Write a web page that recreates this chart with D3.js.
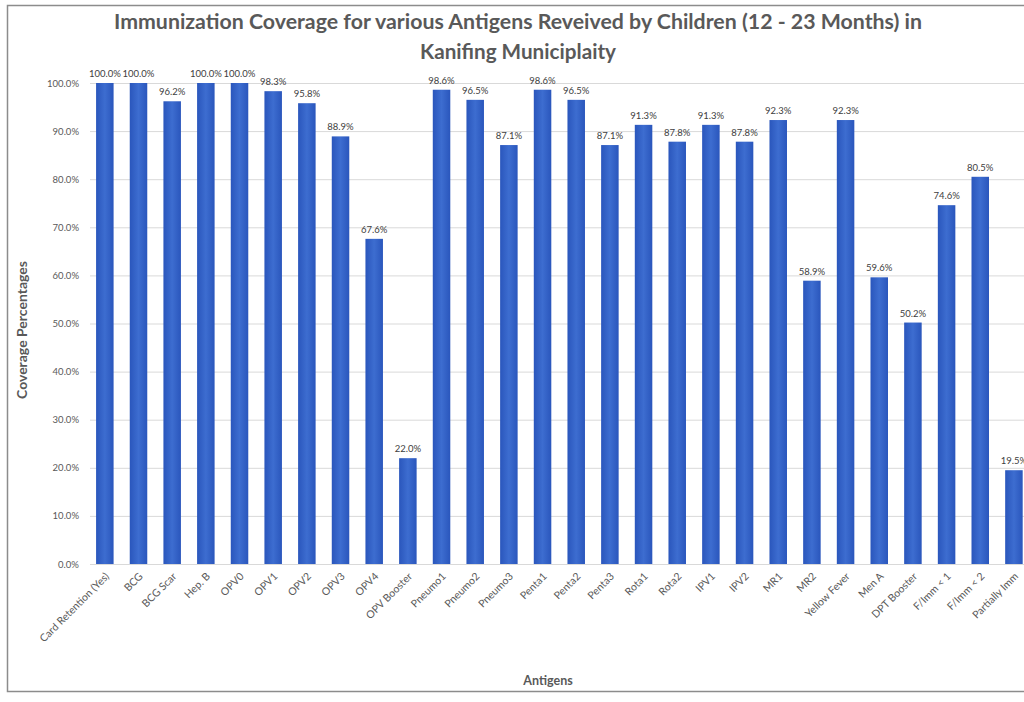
<!DOCTYPE html>
<html>
<head>
<meta charset="utf-8">
<script src="https://cdn.jsdelivr.net/npm/d3@7"></script>
<style>
  html, body { margin: 0; padding: 0; background: #fff; }
  svg { display: block; }
</style>
</head>
<body>
<svg id="chart" width="1024" height="702"></svg>
<script>
// Antigens and the share of children (12 - 23 months) who received each
const antigens = [
  "Card Retention (Yes)", "BCG", "BCG Scar", "Hep. B", "OPV0", "OPV1", "OPV2",
  "OPV3", "OPV4", "OPV Booster", "Pneumo1", "Pneumo2", "Pneumo3", "Penta1",
  "Penta2", "Penta3", "Rota1", "Rota2", "IPV1", "IPV2", "MR1", "MR2",
  "Yellow Fever", "Men A", "DPT Booster", "F/Imm < 1", "F/Imm < 2", "Partially Imm"
];
const coverage = [
  100.0, 100.0, 96.2, 100.0, 100.0, 98.3, 95.8,
  88.9, 67.6, 22.0, 98.6, 96.5, 87.1, 98.6,
  96.5, 87.1, 91.3, 87.8, 91.3, 87.8, 92.3, 58.9,
  92.3, 59.6, 50.2, 74.6, 80.5, 19.5
];
const yTicks = [0, 10, 20, 30, 40, 50, 60, 70, 80, 90, 100];

const titleLines = [
  "Immunization Coverage for various Antigens Reveived by Children (12 - 23 Months) in",
  "Kanifing Municiplaity"
];

const svg = d3.select("#chart");
const font = "Lato, 'Open Sans', sans-serif";

// outer chart frame (runs past the right edge)
svg.append("rect")
  .attr("x", 7.5).attr("y", 5.5)
  .attr("width", 1040).attr("height", 686)
  .attr("fill", "#fff")
  .attr("stroke", "#8c8c8c").attr("stroke-width", 1.5);

const plot = { left: 88, top: 83, bottom: 564, step: 33.67 };
const x = d3.scaleBand()
  .domain(antigens)
  .range([plot.left, plot.left + plot.step * antigens.length])
  .paddingInner(0.48)
  .paddingOuter(0.24);
const y = d3.scaleLinear().domain([0, 100]).range([plot.bottom, plot.top]);

// horizontal gridlines
svg.append("g")
  .selectAll("line")
  .data(yTicks)
  .join("line")
  .attr("x1", 90).attr("x2", 1024)
  .attr("y1", d => y(d) + 0.5).attr("y2", d => y(d) + 0.5)
  .attr("stroke", "#d9d9d9").attr("stroke-width", 1);

// y axis labels
const yAxis = d3.axisLeft(y)
  .tickValues(yTicks)
  .tickFormat(d => d3.format(".1f")(d) + "%")
  .tickSize(0)
  .tickPadding(0);
const gy = svg.append("g").attr("transform", "translate(79,0)").call(yAxis);
gy.select(".domain").remove();
gy.selectAll("text")
  .attr("fill", "#595959")
  .style("font-family", font)
  .style("font-size", "9.5px");

// bars with a soft horizontal shading
const defs = svg.append("defs");
const grad = defs.append("linearGradient").attr("id", "barFill")
  .attr("x1", "0").attr("x2", "1").attr("y1", "0").attr("y2", "0");
grad.append("stop").attr("offset", "0%").attr("stop-color", "#2a56bc");
grad.append("stop").attr("offset", "50%").attr("stop-color", "#3d6dd0");
grad.append("stop").attr("offset", "100%").attr("stop-color", "#2a56bc");

svg.append("g")
  .selectAll("rect")
  .data(antigens)
  .join("rect")
  .attr("x", d => x(d))
  .attr("width", x.bandwidth())
  .attr("y", (d, i) => y(coverage[i]))
  .attr("height", (d, i) => y(0) - y(coverage[i]))
  .attr("fill", "url(#barFill)");

// x axis baseline and category labels
const xAxis = d3.axisBottom(x).tickSize(0).tickPadding(0);
const gx = svg.append("g").attr("transform", `translate(0,${plot.bottom})`).call(xAxis);
gx.select(".domain")
  .attr("d", `M90,0.5H1024`)
  .attr("stroke", "#d9d9d9");
gx.selectAll("text")
  .attr("fill", "#595959")
  .style("font-family", font)
  .style("font-size", "10.5px")
  .attr("text-anchor", "end")
  .attr("dy", "0")
  .attr("transform", "translate(5,13) rotate(-45)");

// value labels above the bars
svg.append("g")
  .selectAll("text")
  .data(antigens)
  .join("text")
  .attr("x", d => x(d) + x.bandwidth() / 2)
  .attr("y", (d, i) => y(coverage[i]) - 6)
  .attr("text-anchor", "middle")
  .attr("fill", "#404040")
  .style("font-family", font)
  .style("font-size", "9.5px")
  .text((d, i) => d3.format(".1f")(coverage[i]) + "%");

// title
svg.append("g")
  .selectAll("text")
  .data(titleLines)
  .join("text")
  .attr("x", 518)
  .attr("y", (d, i) => 29 + i * 30)
  .attr("text-anchor", "middle")
  .attr("textLength", (d, i) => i === 0 ? 808 : 196)
  .attr("lengthAdjust", "spacingAndGlyphs")
  .attr("fill", "#595959")
  .style("font-family", font)
  .style("font-weight", "bold")
  .style("font-size", "20px")
  .text(d => d);

// axis titles
svg.append("text")
  .attr("transform", "translate(27,330) rotate(-90)")
  .attr("text-anchor", "middle")
  .attr("fill", "#595959")
  .style("font-family", font)
  .style("font-weight", "bold")
  .style("font-size", "14px")
  .text("Coverage Percentages");

svg.append("text")
  .attr("x", 548).attr("y", 685)
  .attr("text-anchor", "middle")
  .attr("fill", "#595959")
  .style("font-family", font)
  .style("font-weight", "bold")
  .style("font-size", "12.5px")
  .text("Antigens");
</script>
</body>
</html>
